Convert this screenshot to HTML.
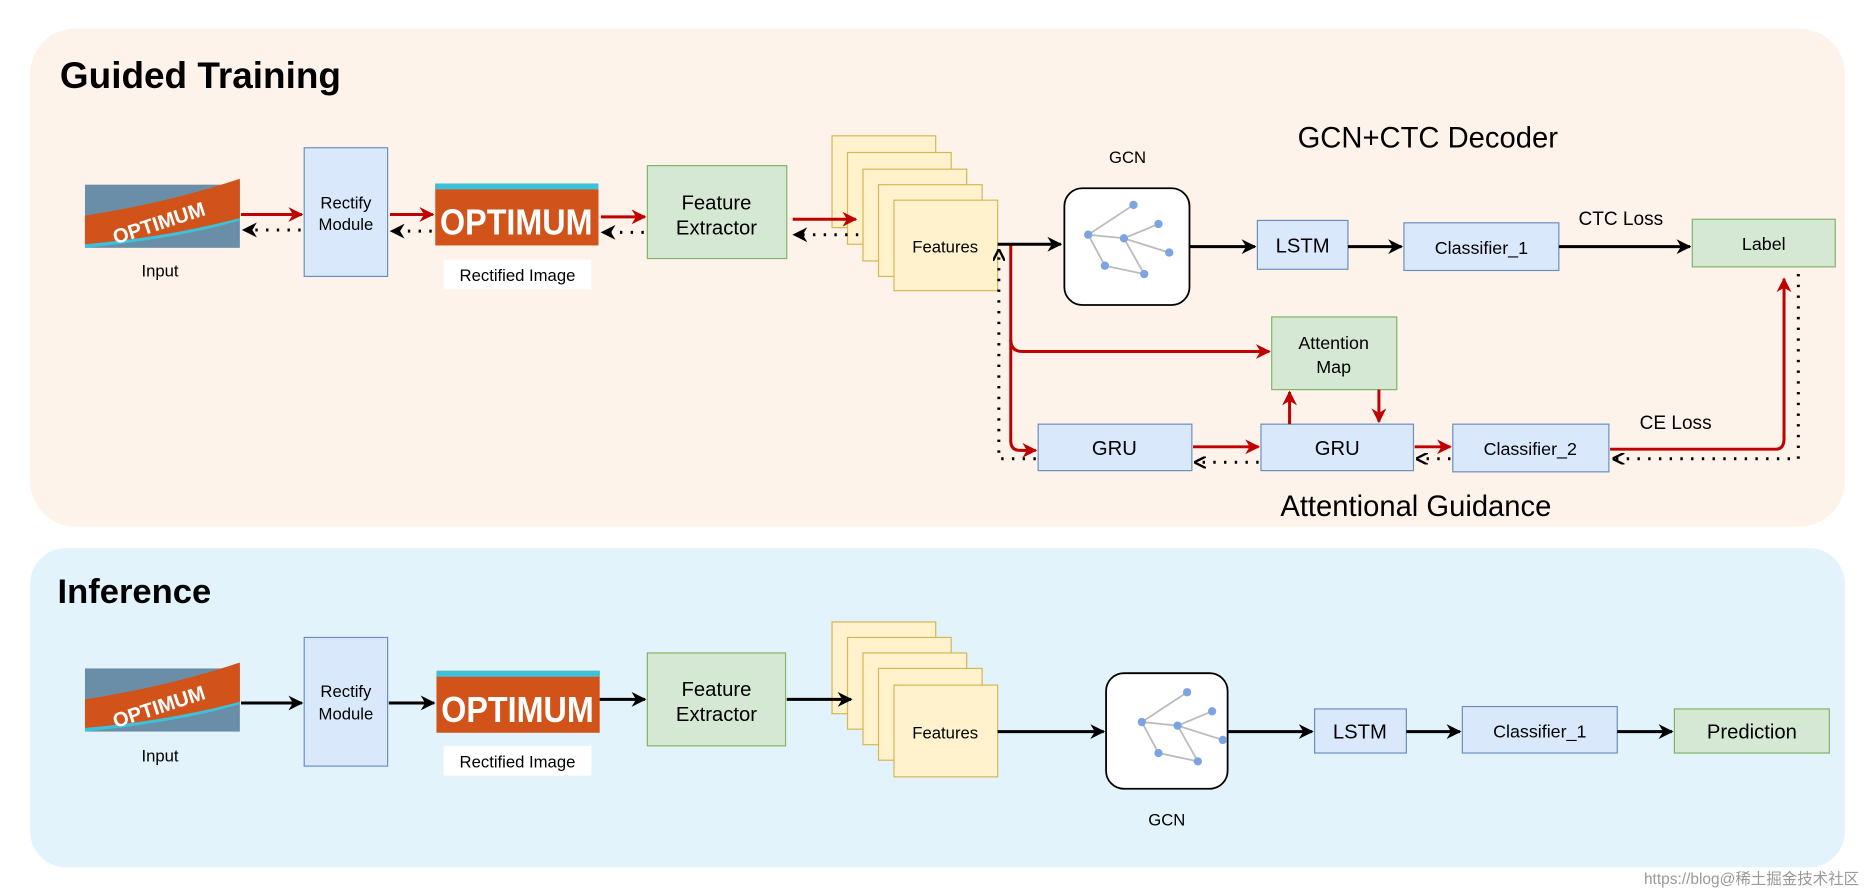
<!DOCTYPE html>
<html><head><meta charset="utf-8"><style>
html,body{margin:0;padding:0;background:#fff;}
svg{display:block;}
text{font-family:"Liberation Sans","Noto Sans CJK SC",sans-serif;}
</style></head><body>
<svg width="1869" height="896" viewBox="0 0 1568 752" xmlns="http://www.w3.org/2000/svg">
<defs>
<marker id="ar" viewBox="0 0 10 10" refX="9" refY="5" markerWidth="5" markerHeight="5" orient="auto"><path d="M0,0 L10,5 L0,10 L3,5 z" fill="#c00000"/></marker>
<marker id="ab" viewBox="0 0 10 10" refX="9" refY="5" markerWidth="5" markerHeight="5" orient="auto"><path d="M0,0 L10,5 L0,10 L3,5 z" fill="#000"/></marker>
<marker id="ao" viewBox="0 0 10 10" refX="9" refY="5" markerWidth="4" markerHeight="4" orient="auto"><path d="M0,0 L10,5 L0,10" fill="none" stroke="#000" stroke-width="2"/></marker>
<g id="img1">
<rect x="0" y="0" width="130" height="53" fill="#6a8ea8"/>
<path d="M0,30 Q70,20 130,-2 L130,30 Q80,45 0,53 z" fill="#3ec0d8"/>
<path d="M0,26 Q70,15 130,-5 L130,28 Q70,44 0,50 z" fill="#d2531a"/>
<text x="62" y="38" font-size="17" font-weight="bold" fill="#fff" text-anchor="middle" transform="rotate(-18 62 32)">OPTIMUM</text>
</g>
<g id="img2">
<rect x="0" y="0" width="137" height="52" fill="#d2531a"/>
<rect x="0" y="0" width="137" height="5" fill="#3ec0d8"/>
<text x="68" y="43" font-size="30" font-weight="bold" fill="#fff" text-anchor="middle" textLength="128" lengthAdjust="spacingAndGlyphs">OPTIMUM</text>
</g>
<g id="graph">
<g stroke="#bbb" stroke-width="1.5"><line x1="20" y1="28" x2="58" y2="3"/><line x1="20" y1="28" x2="50" y2="31"/><line x1="50" y1="31" x2="79" y2="19"/><line x1="50" y1="31" x2="88" y2="43"/><line x1="20" y1="28" x2="34" y2="54"/><line x1="34" y1="54" x2="67" y2="61"/><line x1="50" y1="31" x2="67" y2="61"/></g>
<g fill="#7da4e0"><circle cx="58" cy="3" r="3.5"/><circle cx="20" cy="28" r="3.5"/><circle cx="50" cy="31" r="3.5"/><circle cx="79" cy="19" r="3.5"/><circle cx="88" cy="43" r="3.5"/><circle cx="34" cy="54" r="3.5"/><circle cx="67" cy="61" r="3.5"/></g>
</g>
</defs>

<rect x="25" y="24" width="1523" height="418" rx="38" fill="#fdf3ea"/>
<rect x="25" y="460" width="1523" height="268" rx="30" fill="#e3f3fb"/>
<text x="50" y="74" font-size="31" font-weight="bold">Guided Training</text>
<text x="48" y="506" font-size="29" font-weight="bold">Inference</text>

<!-- TOP -->
<use href="#img1" x="71" y="155"/>
<text x="134" y="232" font-size="14" text-anchor="middle">Input</text>
<rect x="255" y="124" width="70" height="108" fill="#dae8fc" stroke="#6c8ebf"/>
<text x="290" y="175" font-size="14" text-anchor="middle">Rectify</text><text x="290" y="193" font-size="14" text-anchor="middle">Module</text>
<use href="#img2" x="365" y="154"/>
<rect x="372" y="218" width="124" height="25" fill="#fff"/>
<text x="434" y="236" font-size="14" text-anchor="middle">Rectified Image</text>
<rect x="543" y="139" width="117" height="78" fill="#d5e8d4" stroke="#82b366"/>
<text x="601" y="176" font-size="17" text-anchor="middle">Feature</text><text x="601" y="197" font-size="17" text-anchor="middle">Extractor</text>
<g fill="#fff2cc" stroke="#d6b656"><rect x="698" y="114" width="87" height="77"/><rect x="711" y="128" width="87" height="77"/><rect x="724" y="142" width="87" height="77"/><rect x="737" y="155" width="87" height="77"/><rect x="750" y="168" width="87" height="76"/></g>
<text x="793" y="212" font-size="14" text-anchor="middle">Features</text>
<text x="946" y="137" font-size="14" text-anchor="middle">GCN</text>
<rect x="893" y="158" width="105" height="98" rx="15" fill="#fff" stroke="#000" stroke-width="1.5"/>
<use href="#graph" x="893" y="169"/>
<rect x="1055" y="185" width="76" height="41" fill="#dae8fc" stroke="#6c8ebf"/><text x="1093" y="212" font-size="17" text-anchor="middle">LSTM</text>
<rect x="1178" y="187" width="130" height="40" fill="#dae8fc" stroke="#6c8ebf"/><text x="1243" y="213" font-size="15" text-anchor="middle">Classifier_1</text>
<rect x="1420" y="184" width="120" height="40" fill="#d5e8d4" stroke="#82b366"/><text x="1480" y="210" font-size="15" text-anchor="middle">Label</text>
<text x="1360" y="189" font-size="16" text-anchor="middle">CTC Loss</text>
<text x="1198" y="124" font-size="24.5" text-anchor="middle">GCN+CTC Decoder</text>
<rect x="1067" y="266" width="105" height="61" fill="#d5e8d4" stroke="#82b366"/>
<text x="1119" y="293" font-size="15" text-anchor="middle">Attention</text><text x="1119" y="313" font-size="15" text-anchor="middle">Map</text>
<rect x="871" y="356" width="129" height="39" fill="#dae8fc" stroke="#6c8ebf"/><text x="935" y="382" font-size="17" text-anchor="middle">GRU</text>
<rect x="1058" y="356" width="128" height="39" fill="#dae8fc" stroke="#6c8ebf"/><text x="1122" y="382" font-size="17" text-anchor="middle">GRU</text>
<rect x="1219" y="356" width="131" height="40" fill="#dae8fc" stroke="#6c8ebf"/><text x="1284" y="382" font-size="15" text-anchor="middle">Classifier_2</text>
<text x="1406" y="360" font-size="16" text-anchor="middle">CE Loss</text>
<text x="1188" y="433" font-size="24.5" text-anchor="middle">Attentional Guidance</text>

<g stroke="#c00000" stroke-width="2.5" fill="none" marker-end="url(#ar)">
<line x1="202" y1="180" x2="253" y2="180"/>
<line x1="327" y1="180" x2="363" y2="180"/>
<line x1="504" y1="182" x2="541" y2="182"/>
<line x1="665" y1="184" x2="718" y2="184"/>
<path d="M848,205 V370 Q848,378 856,378 H869"/>
<path d="M848,285 Q848,295 858,295 H1065"/>
<line x1="1001" y1="375" x2="1056" y2="375"/>
<line x1="1187" y1="375" x2="1217" y2="375"/>
<path d="M1351,377 H1490 Q1497,377 1497,368 V234"/>
<line x1="1082" y1="356" x2="1082" y2="329"/>
<line x1="1157" y1="327" x2="1157" y2="354"/>
</g>
<g stroke="#000" stroke-width="2.5" stroke-dasharray="2,7" fill="none" marker-end="url(#ab)">
<line x1="252" y1="193" x2="204" y2="193"/>
<line x1="362" y1="194" x2="328" y2="194"/>
<line x1="540" y1="195" x2="505" y2="195"/>
<line x1="720" y1="197" x2="666" y2="197"/>
</g>
<g stroke="#000" stroke-width="2.5" stroke-dasharray="2,7" fill="none" marker-end="url(#ao)">
<path d="M1509,230 V385 H1354"/>
<line x1="1217" y1="385" x2="1189" y2="385"/>
<line x1="1056" y1="388" x2="1003" y2="388"/>
<path d="M869,385 H838 V210"/>
</g>
<g stroke="#000" stroke-width="2.5" fill="none" marker-end="url(#ab)">
<line x1="837" y1="205" x2="890" y2="205"/>
<line x1="998" y1="207" x2="1053" y2="207"/>
<line x1="1131" y1="207" x2="1176" y2="207"/>
<line x1="1308" y1="207" x2="1418" y2="207"/>
</g>

<!-- BOTTOM -->
<use href="#img1" x="71" y="561"/>
<text x="134" y="639" font-size="14" text-anchor="middle">Input</text>
<rect x="255" y="535" width="70" height="108" fill="#dae8fc" stroke="#6c8ebf"/>
<text x="290" y="585" font-size="14" text-anchor="middle">Rectify</text><text x="290" y="604" font-size="14" text-anchor="middle">Module</text>
<use href="#img2" x="366" y="563"/>
<rect x="372" y="626" width="124" height="25" fill="#fff"/>
<text x="434" y="644" font-size="14" text-anchor="middle">Rectified Image</text>
<rect x="543" y="548" width="116" height="78" fill="#d5e8d4" stroke="#82b366"/>
<text x="601" y="584" font-size="17" text-anchor="middle">Feature</text><text x="601" y="605" font-size="17" text-anchor="middle">Extractor</text>
<g fill="#fff2cc" stroke="#d6b656"><rect x="698" y="522" width="87" height="77"/><rect x="711" y="535" width="87" height="77"/><rect x="724" y="548" width="87" height="77"/><rect x="737" y="561" width="87" height="77"/><rect x="750" y="575" width="87" height="77"/></g>
<text x="793" y="620" font-size="14" text-anchor="middle">Features</text>
<rect x="928" y="565" width="102" height="97" rx="15" fill="#fff" stroke="#000" stroke-width="1.5"/>
<use href="#graph" x="938" y="578"/>
<text x="979" y="693" font-size="14" text-anchor="middle">GCN</text>
<rect x="1103" y="595" width="77" height="37" fill="#dae8fc" stroke="#6c8ebf"/><text x="1141" y="620" font-size="17" text-anchor="middle">LSTM</text>
<rect x="1227" y="593" width="130" height="39" fill="#dae8fc" stroke="#6c8ebf"/><text x="1292" y="619" font-size="15" text-anchor="middle">Classifier_1</text>
<rect x="1405" y="595" width="130" height="37" fill="#d5e8d4" stroke="#82b366"/><text x="1470" y="620" font-size="17" text-anchor="middle">Prediction</text>
<g stroke="#000" stroke-width="2.5" fill="none" marker-end="url(#ab)">
<line x1="202" y1="590" x2="253" y2="590"/>
<line x1="326" y1="590" x2="364" y2="590"/>
<line x1="503" y1="587" x2="541" y2="587"/>
<line x1="660" y1="587" x2="714" y2="587"/>
<line x1="837" y1="614" x2="926" y2="614"/>
<line x1="1030" y1="614" x2="1101" y2="614"/>
<line x1="1180" y1="614" x2="1225" y2="614"/>
<line x1="1357" y1="614" x2="1403" y2="614"/>
</g>
<text x="1560" y="742" font-size="13" fill="#999" text-anchor="end">https://blog@稀土掘金技术社区</text>
</svg>
</body></html>
